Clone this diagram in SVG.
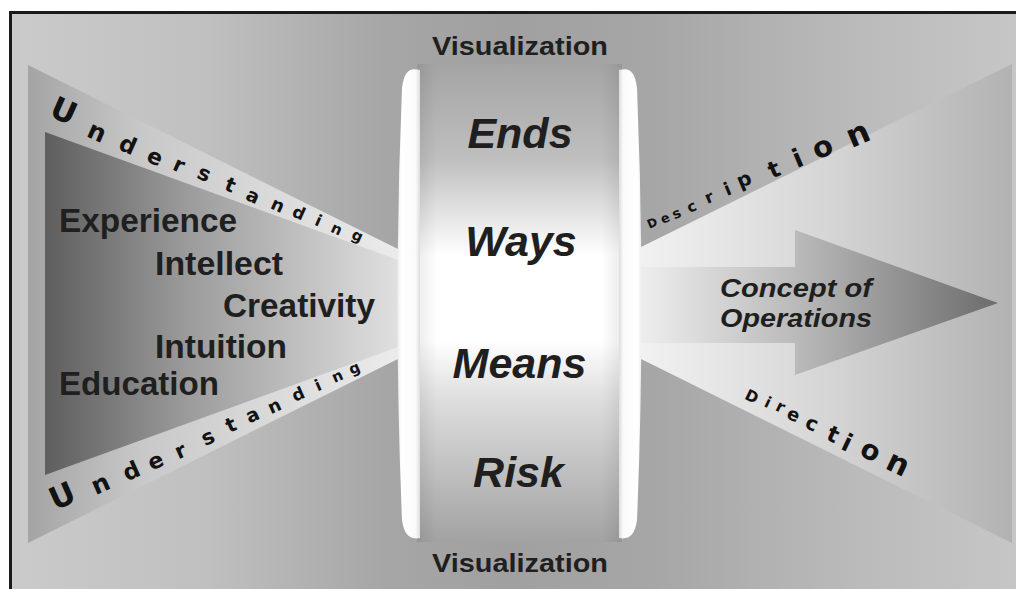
<svg xmlns="http://www.w3.org/2000/svg" width="1016" height="589" viewBox="0 0 1016 589">
<style>
.lbl{font-family:"Liberation Sans",Arial,sans-serif;font-weight:bold;fill:#1f1f1f}
.it{font-style:italic}
.sp{font-family:"DejaVu Sans","Liberation Sans",Arial,sans-serif;font-weight:bold;fill:#121212}
</style>
<defs>
<linearGradient id="gBg" gradientUnits="userSpaceOnUse" x1="0" y1="0" x2="1016" y2="0">
<stop offset="0" stop-color="#cbcbcb"/><stop offset="0.2" stop-color="#c0c0c0"/><stop offset="0.38" stop-color="#a6a6a6"/><stop offset="0.5" stop-color="#a0a0a0"/><stop offset="0.64" stop-color="#a6a6a6"/><stop offset="0.85" stop-color="#bbbbbb"/><stop offset="1" stop-color="#c6c6c6"/>
</linearGradient>
<linearGradient id="gLOut" gradientUnits="userSpaceOnUse" x1="28" y1="0" x2="405" y2="0">
<stop offset="0" stop-color="#a4a4a4"/><stop offset="0.3" stop-color="#c8c8c8"/><stop offset="1" stop-color="#ececec"/>
</linearGradient>
<linearGradient id="gLIn" gradientUnits="userSpaceOnUse" x1="45" y1="0" x2="405" y2="0">
<stop offset="0" stop-color="#5e5e5e"/><stop offset="0.4" stop-color="#9c9c9c"/><stop offset="1" stop-color="#e2e2e2"/>
</linearGradient>
<linearGradient id="gR" gradientUnits="userSpaceOnUse" x1="635" y1="0" x2="1012" y2="0">
<stop offset="0" stop-color="#f2f2f2"/><stop offset="0.5" stop-color="#d6d6d6"/><stop offset="1" stop-color="#b2b2b2"/>
</linearGradient>
<linearGradient id="gArrow" gradientUnits="userSpaceOnUse" x1="640" y1="0" x2="998" y2="0">
<stop offset="0" stop-color="#eeeeee"/><stop offset="0.45" stop-color="#b8b8b8"/><stop offset="1" stop-color="#6c6c6c"/>
</linearGradient>
<linearGradient id="gTube" gradientUnits="userSpaceOnUse" x1="0" y1="64" x2="0" y2="542">
<stop offset="0" stop-color="#a4a4a4"/><stop offset="0.2" stop-color="#bfbfbf"/><stop offset="0.34" stop-color="#ececec"/><stop offset="0.4" stop-color="#ffffff"/><stop offset="0.58" stop-color="#ffffff"/><stop offset="0.7" stop-color="#dedede"/><stop offset="0.85" stop-color="#c0c0c0"/><stop offset="1" stop-color="#a2a2a2"/>
</linearGradient>
<linearGradient id="gTubeSide" gradientUnits="userSpaceOnUse" x1="417" y1="0" x2="622" y2="0">
<stop offset="0" stop-color="#000" stop-opacity="0.08"/><stop offset="0.1" stop-color="#000" stop-opacity="0"/><stop offset="0.9" stop-color="#000" stop-opacity="0"/><stop offset="1" stop-color="#000" stop-opacity="0.08"/>
</linearGradient>
<linearGradient id="gRimL" gradientUnits="userSpaceOnUse" x1="395" y1="0" x2="421" y2="0">
<stop offset="0" stop-color="#e2e2e2"/><stop offset="0.25" stop-color="#ffffff"/><stop offset="0.8" stop-color="#fafafa"/><stop offset="1" stop-color="#d6d6d6"/>
</linearGradient>
<linearGradient id="gRimR" gradientUnits="userSpaceOnUse" x1="618" y1="0" x2="644" y2="0">
<stop offset="0" stop-color="#d6d6d6"/><stop offset="0.2" stop-color="#fafafa"/><stop offset="0.75" stop-color="#ffffff"/><stop offset="1" stop-color="#e2e2e2"/>
</linearGradient>
</defs>

<g id="background">
<rect x="0" y="0" width="1016" height="589" fill="#ffffff"/>
<rect x="10" y="12" width="1006" height="577" fill="url(#gBg)"/>
<line x1="9" y1="12.5" x2="1016" y2="12.5" stroke="#1a1a1a" stroke-width="3"/>
<line x1="10.5" y1="11" x2="10.5" y2="589" stroke="#1a1a1a" stroke-width="3"/>
</g>

<g id="left-funnel">
<polygon points="28,65 405,252.5 405,355.5 28,543" fill="url(#gLOut)"/>
<polygon points="45,132 405,262.4 405,344.6 45,475" fill="url(#gLIn)"/>
<text class="sp" id="understanding-top"><tspan x="48" y="115.5" font-size="31" rotate="24">U</tspan><tspan x="85.5" y="136" font-size="25" rotate="24">n</tspan><tspan x="117.3" y="148.7" font-size="23" rotate="24">d</tspan><tspan x="145.3" y="160.8" font-size="22" rotate="24">e</tspan><tspan x="171.4" y="169.3" font-size="21" rotate="24">r</tspan><tspan x="195.7" y="177.6" font-size="21" rotate="24">s</tspan><tspan x="223.2" y="189.3" font-size="20" rotate="24">t</tspan><tspan x="244.5" y="199.2" font-size="19" rotate="24">a</tspan><tspan x="269.4" y="207.9" font-size="18" rotate="24">n</tspan><tspan x="290.9" y="215.7" font-size="17" rotate="24">d</tspan><tspan x="313.8" y="224.6" font-size="16" rotate="24">i</tspan><tspan x="329.7" y="231.4" font-size="15" rotate="24">n</tspan><tspan x="350.6" y="238.3" font-size="15" rotate="24">g</tspan></text>
<text class="sp" id="understanding-bottom"><tspan x="55" y="510.8" font-size="31" rotate="-24">U</tspan><tspan x="95.7" y="495.2" font-size="25" rotate="-24">n</tspan><tspan x="127" y="481.4" font-size="23" rotate="-24">d</tspan><tspan x="151.8" y="470.7" font-size="22" rotate="-24">e</tspan><tspan x="178.6" y="459.6" font-size="21" rotate="-24">r</tspan><tspan x="204.9" y="446.3" font-size="21" rotate="-24">s</tspan><tspan x="229.2" y="433" font-size="20" rotate="-24">t</tspan><tspan x="249.2" y="423.5" font-size="19" rotate="-24">a</tspan><tspan x="270.9" y="414.3" font-size="18" rotate="-24">n</tspan><tspan x="295.1" y="401.9" font-size="17" rotate="-24">d</tspan><tspan x="317.7" y="391.4" font-size="16" rotate="-24">i</tspan><tspan x="334.4" y="383.1" font-size="15" rotate="-24">n</tspan><tspan x="351.5" y="375" font-size="15" rotate="-24">g</tspan></text>
<text class="lbl" x="59" y="232" font-size="33.5" textLength="178" lengthAdjust="spacingAndGlyphs">Experience</text>
<text class="lbl" x="155" y="275" font-size="33.5" textLength="128" lengthAdjust="spacingAndGlyphs">Intellect</text>
<text class="lbl" x="223" y="317" font-size="33.5" textLength="152" lengthAdjust="spacingAndGlyphs">Creativity</text>
<text class="lbl" x="155" y="358" font-size="33.5" textLength="132" lengthAdjust="spacingAndGlyphs">Intuition</text>
<text class="lbl" x="59" y="395" font-size="33.5" textLength="160" lengthAdjust="spacingAndGlyphs">Education</text>
</g>

<g id="right-funnel">
<polygon points="635,250 1012,64 1012,543 635,356" fill="url(#gR)"/>
<text class="sp" id="description"><tspan x="649.3" y="228.8" font-size="12" rotate="-23">D</tspan><tspan x="662.8" y="224.1" font-size="13" rotate="-23">e</tspan><tspan x="674.6" y="219.5" font-size="14" rotate="-23">s</tspan><tspan x="689.5" y="212.9" font-size="15" rotate="-23">c</tspan><tspan x="707.6" y="204" font-size="16.5" rotate="-23">r</tspan><tspan x="726.9" y="196" font-size="18" rotate="-23">i</tspan><tspan x="739.9" y="188.4" font-size="20" rotate="-23">p</tspan><tspan x="772" y="178.7" font-size="23" rotate="-23">t</tspan><tspan x="797" y="168.2" font-size="26" rotate="-23">i</tspan><tspan x="817" y="160" font-size="29" rotate="-23">o</tspan><tspan x="851.4" y="148.2" font-size="32" rotate="-23">n</tspan></text>
<text class="sp" id="direction"><tspan x="743.8" y="398.6" font-size="15.5" rotate="25.5">D</tspan><tspan x="763.2" y="406.1" font-size="15.5" rotate="25.5">i</tspan><tspan x="774.5" y="410" font-size="16.5" rotate="25.5">r</tspan><tspan x="785.6" y="417.6" font-size="18" rotate="25.5">e</tspan><tspan x="803.8" y="426.9" font-size="20" rotate="25.5">c</tspan><tspan x="825" y="439" font-size="22.5" rotate="25.5">t</tspan><tspan x="839.8" y="448.4" font-size="24.5" rotate="25.5">i</tspan><tspan x="858.2" y="454.8" font-size="27.5" rotate="25.5">o</tspan><tspan x="884" y="468.1" font-size="30.5" rotate="25.5">n</tspan></text>
</g>

<g id="connectors">
<g id="concept-arrow">
<polygon points="640,267 795,267 795,230 998,303 795,375 795,343 640,343" fill="url(#gArrow)"/>
<text class="lbl it" x="720" y="297" font-size="25" textLength="152" lengthAdjust="spacingAndGlyphs">Concept of</text>
<text class="lbl it" x="720" y="327" font-size="25" textLength="152" lengthAdjust="spacingAndGlyphs">Operations</text>
</g>
</g>

<g id="tube">
<rect x="417" y="64" width="205" height="478" fill="url(#gTube)"/>
<rect x="417" y="64" width="205" height="478" fill="url(#gTubeSide)"/>
<path d="M420,70 C409,67 404,72 402,88 Q393,305 402,520 C404,534 409,540 420,538 Z" fill="url(#gRimL)"/>
<path d="M619,70 C630,67 635,72 637,88 Q646,305 637,520 C635,534 630,540 619,538 Z" fill="url(#gRimR)"/>
<text class="lbl it" x="520" y="148" font-size="43" text-anchor="middle">Ends</text>
<text class="lbl it" x="521" y="256" font-size="43" text-anchor="middle">Ways</text>
<text class="lbl it" x="519.5" y="378" font-size="43" text-anchor="middle">Means</text>
<text class="lbl it" x="518.5" y="487" font-size="43" text-anchor="middle">Risk</text>
</g>

<g id="visualization-labels">
<text class="lbl" x="432" y="55" font-size="26" textLength="176" lengthAdjust="spacingAndGlyphs">Visualization</text>
<text class="lbl" x="432" y="572" font-size="26" textLength="176" lengthAdjust="spacingAndGlyphs">Visualization</text>
</g>
</svg>
